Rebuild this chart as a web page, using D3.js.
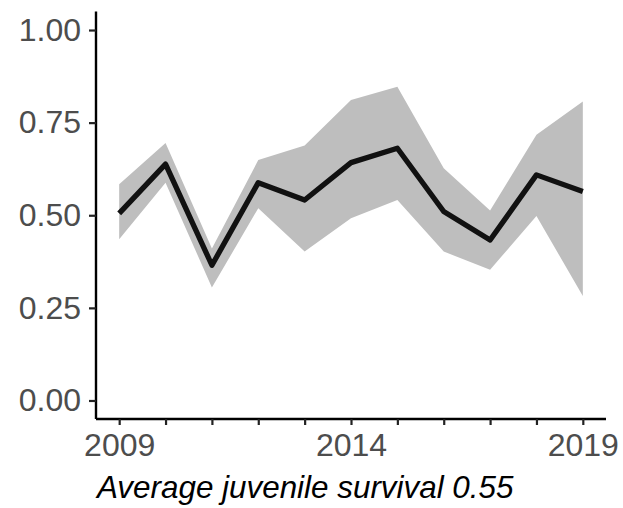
<!DOCTYPE html>
<html>
<head>
<meta charset="utf-8">
<script src="https://cdn.jsdelivr.net/npm/d3@7"></script>
<style>
  html, body { margin: 0; padding: 0; background: #fff; }
  svg { display: block; }
</style>
</head>
<body>
<svg id="chart" width="623" height="508"></svg>
<script>
// Juvenile survival by year: estimate with its uncertainty band
const years = [2009, 2010, 2011, 2012, 2013, 2014, 2015, 2016, 2017, 2018, 2019];
const survival = [0.505, 0.638, 0.365, 0.588, 0.541, 0.642, 0.681, 0.510, 0.433, 0.609, 0.564];
const upper = [0.584, 0.695, 0.410, 0.649, 0.688, 0.811, 0.847, 0.627, 0.513, 0.717, 0.807];
const lower = [0.435, 0.588, 0.305, 0.519, 0.402, 0.492, 0.541, 0.402, 0.353, 0.498, 0.282];
const xTicks = [2009, 2014, 2019];
const yTicks = [0, 0.25, 0.5, 0.75, 1];
const caption = "Average juvenile survival 0.55";

const rows = years.map((yr, i) => ({ yr, v: survival[i], lo: lower[i], hi: upper[i] }));

const svg = d3.select("#chart");
const panelLeft = 96, panelRight = 606, panelTop = 11.5, panelBottom = 419;

const x = d3.scaleLinear().domain([2008.5, 2019.5]).range([panelLeft, panelRight]);
const y = d3.scaleLinear().domain([-0.05, 1.05]).range([panelBottom, panelTop]);

const font = "'Liberation Sans', Arial, Helvetica, sans-serif";

// uncertainty ribbon
svg.append("path")
  .datum(rows)
  .attr("fill", "#BEBEBE")
  .attr("d", d3.area().x(d => x(d.yr)).y0(d => y(d.lo)).y1(d => y(d.hi)));

// survival line
svg.append("path")
  .datum(rows)
  .attr("fill", "none")
  .attr("stroke", "#111111")
  .attr("stroke-width", 5.3)
  .attr("stroke-linejoin", "round")
  .attr("d", d3.line().x(d => x(d.yr)).y(d => y(d.v)));

// x axis: a tick every year, labels every five years
const xAxis = d3.axisBottom(x)
  .tickValues(years)
  .tickSizeInner(6).tickSizeOuter(0).tickPadding(8)
  .tickFormat(d => xTicks.includes(d) ? String(d) : "");
const gx = svg.append("g").attr("transform", `translate(0,${panelBottom})`).call(xAxis);

// y axis
const yAxis = d3.axisLeft(y)
  .tickValues(yTicks)
  .tickSizeInner(7).tickSizeOuter(0).tickPadding(8)
  .tickFormat(d3.format(".2f"));
const gy = svg.append("g").attr("transform", `translate(${panelLeft},0)`).call(yAxis);

[gx, gy].forEach(g => {
  g.select(".domain").attr("stroke", "#000").attr("stroke-width", 2.4);
  g.selectAll(".tick line").attr("stroke", "#222").attr("stroke-width", 2.2);
  g.selectAll(".tick text")
    .attr("fill", "#4D4D4D")
    .style("font-family", font)
    .style("font-size", "32px");
});
gy.select(".domain").attr("d", `M0,${panelBottom}V${panelTop}`);
gx.select(".domain").attr("d", `M${panelLeft},0H${panelRight}`);

// caption under the axis
svg.append("text")
  .attr("x", 97)
  .attr("y", 498)
  .attr("fill", "#000")
  .style("font-family", font)
  .style("font-style", "italic")
  .style("font-size", "31.4px")
  .text(caption);
</script>
</body>
</html>
